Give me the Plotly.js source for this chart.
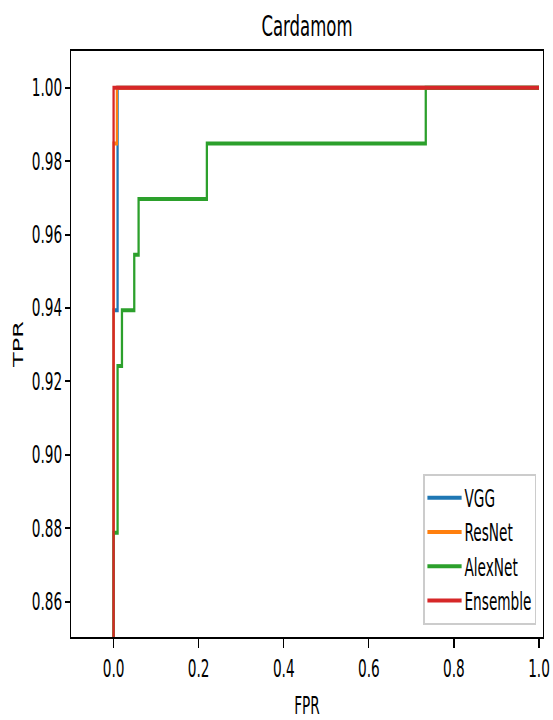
<!DOCTYPE html>
<html>
<head>
<meta charset="utf-8">
<script src="https://cdn.plot.ly/plotly-3.0.1.min.js"></script>
<style>
html,body{margin:0;padding:0;background:#fff;overflow:hidden;}
#wrap{width:553px;height:720px;overflow:hidden;position:relative;}
#chart{width:970px;height:720px;transform:scaleX(0.57);transform-origin:0 0;}
</style>
</head>
<body>
<div id="wrap"><div id="chart"></div></div>
<script>
// ROC curve data
const seriesNames = ["VGG", "ResNet", "AlexNet", "Ensemble"];
const seriesColors = ["#1f77b4", "#ff7f0e", "#2ca02c", "#d62728"];

const vggFpr = [0, 0, 0.0094, 0.0094, 1.0];
const vggTpr = [0, 0.9394, 0.9394, 1.0, 1.0];

const resnetFpr = [0, 0, 0.0078, 0.0078, 1.0];
const resnetTpr = [0, 0.9848, 0.9848, 1.0, 1.0];

const alexnetFpr = [0, 0, 0.0094, 0.0094, 0.0197, 0.0197, 0.0486, 0.0486, 0.0588, 0.0588, 0.2193, 0.2193, 0.7338, 0.7338, 1.0];
const alexnetTpr = [0, 0.8788, 0.8788, 0.9242, 0.9242, 0.9394, 0.9394, 0.9545, 0.9545, 0.9697, 0.9697, 0.9848, 0.9848, 1.0, 1.0];

const ensembleFpr = [0, 0, 1.0];
const ensembleTpr = [0, 1.0, 1.0];

const xTicks = [0.0, 0.2, 0.4, 0.6, 0.8, 1.0];
const yTicks = [0.86, 0.88, 0.90, 0.92, 0.94, 0.96, 0.98, 1.00];

const xs = [vggFpr, resnetFpr, alexnetFpr, ensembleFpr];
const ys = [vggTpr, resnetTpr, alexnetTpr, ensembleTpr];

const FONT = "DejaVu Sans, sans-serif";

const traces = seriesNames.map((n, i) => ({
  type: "scatter",
  mode: "lines",
  name: n,
  legendgroup: n,
  x: xs[i],
  y: ys[i],
  line: {color: seriesColors[i], width: 4},
  hoverinfo: "skip"
}));

const layout = {
  width: 970,
  height: 720,
  paper_bgcolor: "#ffffff",
  plot_bgcolor: "#ffffff",
  font: {family: FONT, size: 24, color: "#000"},
  margin: {l: 124.6, r: 17.6, t: 51, b: 83, autoexpand: false},
  title: {
    text: "Cardamom",
    font: {family: FONT, size: 29, color: "#000"},
    x: 0.5, xref: "paper", xanchor: "center",
    y: 1 - 36/720, yref: "container", yanchor: "bottom"
  },
  xaxis: {
    range: [-0.0995, 1.0085],
    tickvals: xTicks,
    ticktext: xTicks.map(v => v.toFixed(1)),
    ticks: "outside", ticklen: 9, tickwidth: 2, tickcolor: "#000",
    showline: true, mirror: true, linecolor: "#000", linewidth: 2,
    showgrid: false, zeroline: false,
    tickfont: {family: FONT, size: 24, color: "#000"},
    title: {text: "FPR", font: {family: FONT, size: 24, color: "#000"}, standoff: 17},
    automargin: false
  },
  yaxis: {
    range: [0.8504, 1.01],
    tickvals: yTicks,
    ticktext: yTicks.map(v => v.toFixed(2)),
    ticks: "outside", ticklen: 9, tickwidth: 2, tickcolor: "#000",
    showline: true, mirror: true, linecolor: "#000", linewidth: 2,
    showgrid: false, zeroline: false,
    tickfont: {family: FONT, size: 24, color: "#000"},
    title: {text: "TPR", font: {family: FONT, size: 24, color: "#000"}, standoff: 8},
    automargin: false
  },
  showlegend: true,
  legend: {
    x: 0.9853, y: 0.021, xanchor: "right", yanchor: "bottom",
    bgcolor: "rgba(255,255,255,0.8)", bordercolor: "#cccccc", borderwidth: 2,
    font: {family: FONT, size: 24, color: "#000"},
    itemwidth: 60,
    tracegroupgap: 6,
    traceorder: "normal"
  }
};

Plotly.newPlot("chart", traces, layout, {staticPlot: true, displayModeBar: false});
</script>
</body>
</html>
